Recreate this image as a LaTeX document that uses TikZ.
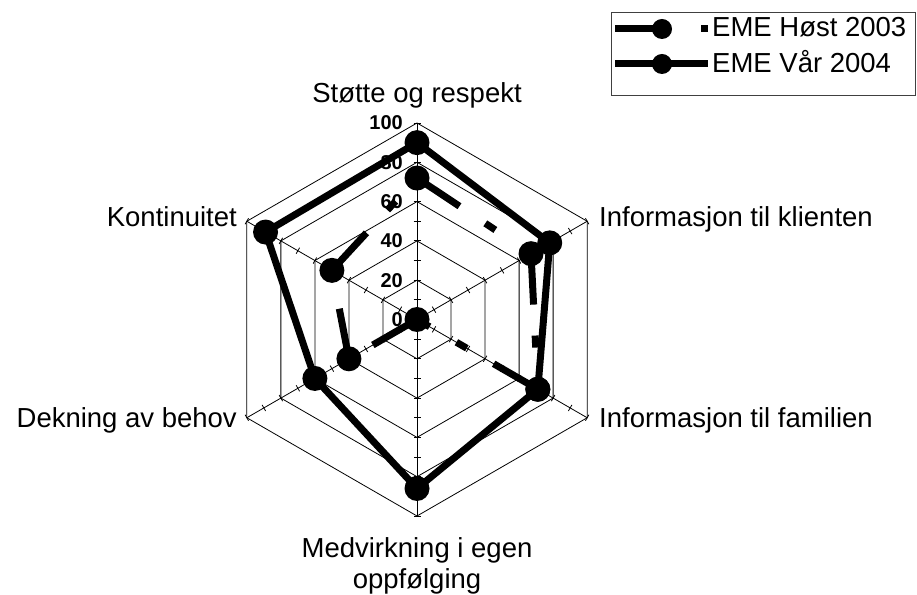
\documentclass[tikz,border=0pt]{standalone}
\usepackage{fontspec}
\setmainfont{Liberation Sans}
\begin{document}
\begin{tikzpicture}[x=1pt,y=1pt,
  gridline/.style={line width=0.8pt,black},
  tickmark/.style={line width=0.8pt,black},
  catlabel/.style={inner sep=0pt,font=\fontsize{27.5}{30}\selectfont},
  vallabel/.style={inner sep=0pt,anchor=base east,font=\fontsize{20}{22}\selectfont\bfseries},
  hostline/.style={line width=7pt,line cap=butt,dash pattern=on 51pt off 31pt on 12pt off 31pt},
  varline/.style={line width=7pt,line join=round},
  dot/.style={circle,fill=black,inner sep=0pt,minimum size=25pt},
  legdot/.style={circle,fill=black,inner sep=0pt,minimum size=20pt}]
\useasboundingbox (0,0) rectangle (917,594);

% radar grid, spokes and ticks (100 units = 196.5pt)
\begin{scope}[shift={(417,274.5)}]
  \foreach \v in {20,40,60,80,100}{
    \pgfmathsetmacro{\r}{\v*1.965}
    \draw[gridline] (90:\r) -- (30:\r) -- (-30:\r) -- (-90:\r) -- (210:\r) -- (150:\r) -- cycle;
  }
  \foreach \a in {90,30,-30,-90,210,150}{
    \draw[gridline] (0,0) -- (\a:196.5);
    \foreach \k in {1,...,10}{
      \draw[tickmark] (\a:{\k*19.65}) ++(\a+90:3.5) -- ++(\a-90:7);
    }
  }
\end{scope}

% value labels on the vertical axis
\foreach \v in {0,20,40,60,80,100}{
  \node[vallabel] (val\v) at (403,{274.5+\v*1.965-7}) {\v};
}

% category labels
\node[catlabel,anchor=base] (c1) at (417,491) {Støtte og respekt};
\node[catlabel,anchor=base west] (c2) at (599,367) {Informasjon til klienten};
\node[catlabel,anchor=base west] (c3) at (599,166) {Informasjon til familien};
\node[catlabel,anchor=base] (c4a) at (417,37) {Medvirkning i egen};
\node[catlabel,anchor=base] (c4b) at (417,5.5) {oppfølging};
\node[catlabel,anchor=base east] (c5) at (237,166) {Dekning av behov};
\node[catlabel,anchor=base east] (c6) at (237,367) {Kontinuitet};

% data points
\begin{scope}[shift={(417,274.5)}]
  \coordinate (h1) at (90:{72*1.965});
  \coordinate (h2) at (30:{67*1.965});
  \coordinate (h3) at (-30:{71*1.965});
  \coordinate (h4) at (0,0);
  \coordinate (h5) at (210:{40*1.965});
  \coordinate (h6) at (150:{50*1.965});
  \coordinate (w1) at (90:{90*1.965});
  \coordinate (w2) at (30:{78*1.965});
  \coordinate (w3) at (-30:{71*1.965});
  \coordinate (w4) at (-90:{86*1.965});
  \coordinate (w5) at (210:{60*1.965});
  \coordinate (w6) at (150:{89*1.965});
\end{scope}

% series EME Høst 2003
\draw[hostline] (h1) -- (h2);
\draw[hostline] (h2) -- (h3);
\draw[hostline] (h3) -- (h4);
\draw[hostline] (h4) -- (h5);
\draw[hostline] (h5) -- (h6);
\draw[hostline] (h6) -- (h1);
\foreach \p in {h1,h2,h3,h4,h5,h6}{ \node[dot] at (\p) {}; }

% series EME Vår 2004
\draw[varline] (w1) -- (w2) -- (w3) -- (w4) -- (w5) -- (w6) -- cycle;
\foreach \p in {w1,w2,w3,w4,w5,w6}{ \node[dot] at (\p) {}; }

% legend
\draw[line width=0.9pt,black!75] (611,499) rectangle (915,582);
\draw[line width=7pt] (615,565) -- (665,565);
\fill (701,561.5) rectangle (708,568.5);
\node[legdot] (lh) at (662,565) {};
\node[catlabel,anchor=base west] (lt1) at (712,557) {EME Høst 2003};
\draw[line width=7pt] (615,530) -- (708,530);
\node[legdot] (lv) at (662,530) {};
\node[catlabel,anchor=base west] (lt2) at (712,521) {EME Vår 2004};
\end{tikzpicture}
\end{document}
